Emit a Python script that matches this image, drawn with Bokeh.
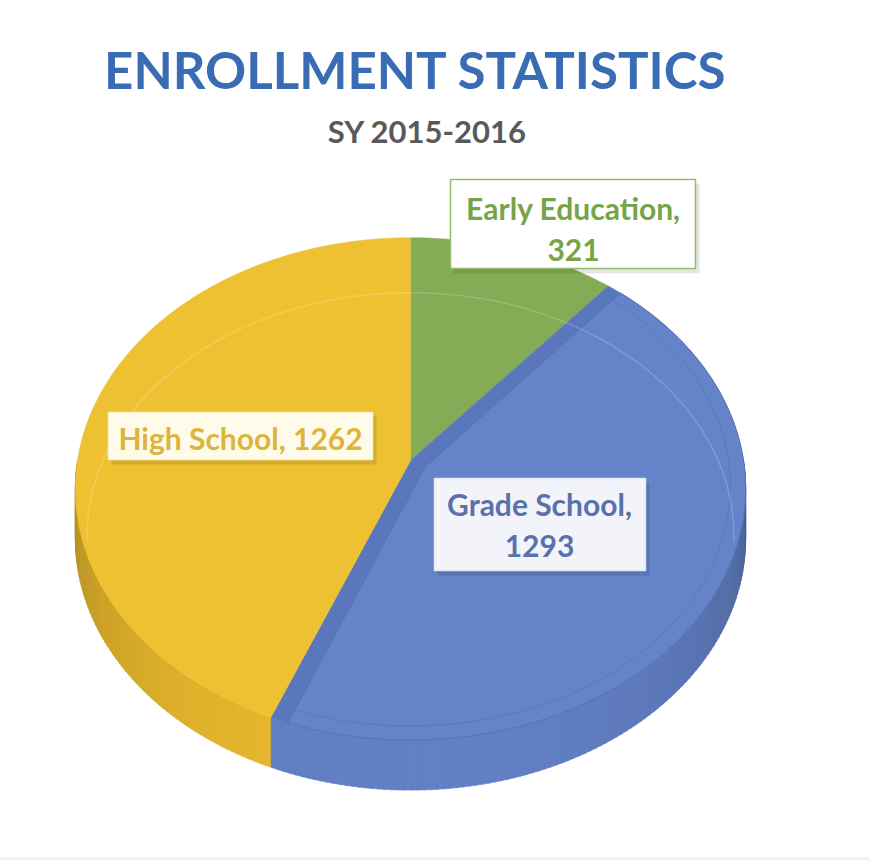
import math
from bokeh.plotting import figure
from bokeh.models import Range1d
from bokeh.core.properties import value
from bokeh.embed import file_html
from bokeh.resources import INLINE

# ---- data ----
categories = ["Early Education", "Grade School", "High School"]
counts = [321, 1293, 1262]
top_colors = ["#84AB55", "#6483C9", "#EEC133"]
side_colors = [(120, 160, 75), (100, 130, 200), (236, 188, 46)]
label_text_colors = ["#76A447", "#5A71AC", "#DDB53C"]
title = "ENROLLMENT STATISTICS"
subtitle = "SY 2015-2016"

# ---- geometry (layout, page pixels) ----
W, H = 870, 860
CX, CY = 410.0, 460.0
A, B, E = 333.0, 248.0, 0.113
DEPTH = 50.0

def proj(r, th, dy=0.0):
    s, c = math.sin(th), math.cos(th)
    den = 1 + E * r * s
    return CX + A * r * c / den, CY - B * r * s / den + dy

total = float(sum(counts))
bounds = []
acc = 0.0
for v in counts:
    a0 = math.pi / 2 - 2 * math.pi * acc / total
    acc += v
    a1 = math.pi / 2 - 2 * math.pi * acc / total
    bounds.append((a0, a1))

def slice_of(th):
    frac = ((math.pi / 2 - th) % (2 * math.pi)) / (2 * math.pi)
    acc2 = 0.0
    for i, v in enumerate(counts):
        acc2 += v / total
        if frac <= acc2 + 1e-12:
            return i
    return len(counts) - 1

p = figure(width=W, height=H, x_range=Range1d(0, W), y_range=Range1d(H, 0),
           output_backend="svg", toolbar_location=None, min_border=0)
p.axis.visible = False
p.grid.visible = False
p.outline_line_color = None
p.background_fill_color = "white"
p.border_fill_color = "white"

# ---- side of the pie (front half) ----
xs_side, ys_side, cols_side = [], [], []
nseg = 180
for k in range(nseg):
    t0 = math.pi + math.pi * k / nseg
    t1 = math.pi + math.pi * (k + 1) / nseg
    tm = (t0 + t1) / 2
    i = slice_of(tm)
    f = 0.70 + 0.29 * (max(0.0, -math.sin(tm)) ** 0.8)
    r, g, b = side_colors[i]
    col = "#%02x%02x%02x" % (int(r * f), int(g * f), int(b * f))
    p0 = proj(1, t0); p1 = proj(1, t1 + 0.004)
    q1 = proj(1, t1 + 0.004, DEPTH); q0 = proj(1, t0, DEPTH)
    xs_side.append([p0[0], p1[0], q1[0], q0[0]])
    ys_side.append([p0[1], p1[1], q1[1], q0[1]])
    cols_side.append(col)
p.patches(xs_side, ys_side, fill_color=cols_side, line_color=cols_side, line_width=0.6)

# ---- top faces ----
for i, (a0, a1) in enumerate(bounds):
    n = max(8, int(abs(a0 - a1) * 60))
    xs, ys = [CX], [CY]
    for k in range(n + 1):
        t = a0 + (a1 - a0) * k / n
        x, y = proj(1, t)
        xs.append(x); ys.append(y)
    fill = "#5A77BE" if categories[i] == "Grade School" else top_colors[i]
    p.patch(xs, ys, fill_color=fill, line_color=fill, line_width=0.5)
    if categories[i] == "Grade School":
        d = 0.05
        half = abs(a0 - a1) / 2
        mid = (a0 + a1) / 2
        rho = d / math.sin(half)
        ax, ay = proj(rho, mid)
        ixs, iys = [ax], [ay]
        b0, b1 = a0 - d, a1 + d
        for k in range(n + 1):
            t = b0 + (b1 - b0) * k / n
            x, y = proj(1, t)
            ixs.append(x); iys.append(y)
        p.patch(ixs, iys, fill_color=top_colors[i], line_color="#5873B6", line_width=1)
        axs, ays = [], []
        for k in range(n + 1):
            t = b0 + (b1 - b0) * k / n
            x, y = proj(0.955, t)
            axs.append(x); ays.append(y)
        p.line(axs, ays, line_color="#4F6AAE", line_alpha=0.45, line_width=1)

# faint inner ring (bevel highlight)
rx, ry = [], []
for k in range(121):
    t = math.radians(-8 + 196 * k / 120)
    x, y = proj(0.965, t, DEPTH - 2)
    rx.append(x); ry.append(y)
p.line(rx, ry, line_color="white", line_alpha=0.18, line_width=1.5)

# ---- titles ----
p.text(x=[415], y=[69], text=[title], text_font=value("Lato"), text_font_style="bold",
       text_font_size="51px", text_color="#3A6CB4", text_align="center", text_baseline="middle")
p.text(x=[427], y=[130], text=[subtitle], text_font=value("Lato"), text_font_style="bold",
       text_font_size="31px", text_color="#595959", text_align="center", text_baseline="middle")

# ---- data labels ----
boxes = {
    "Early Education": dict(l=450, r=695, t=179, b=268, fill="#FFFFFF", line="#93BD6C",
                            lines=[(573, 207, "Early Education,"), (573, 249, str(counts[0]))]),
    "Grade School": dict(l=434, r=645, t=478, b=570, fill="#F2F4FA", line="#E4E8F3",
                         lines=[(539, 503, "Grade School,"), (539, 545, str(counts[1]))]),
    "High School": dict(l=108, r=372, t=412, b=459, fill="#FFFBEA", line="#FBF2CF",
                        lines=[(240, 437, "High School, " + str(counts[2]))]),
}
for i, cat in enumerate(categories):
    bx = boxes[cat]
    p.quad(left=[bx["l"] + 3], right=[bx["r"] + 4], top=[bx["t"] + 4], bottom=[bx["b"] + 5],
           fill_color="black", fill_alpha=0.10, line_color=None)
    p.quad(left=[bx["l"]], right=[bx["r"]], top=[bx["t"]], bottom=[bx["b"]],
           fill_color=bx["fill"], line_color=bx["line"], line_width=1.5)
    for (tx, ty, tt) in bx["lines"]:
        p.text(x=[tx], y=[ty], text=[tt], text_font=value("Lato"), text_font_style="bold",
               text_font_size="30px", text_color=label_text_colors[i],
               text_align="center", text_baseline="middle")

# light grey strip at the bottom
p.quad(left=[0], right=[W], top=[857], bottom=[H], fill_color="#F0F0F0", line_color=None)

open("out.html", "w").write(file_html(p, INLINE))
